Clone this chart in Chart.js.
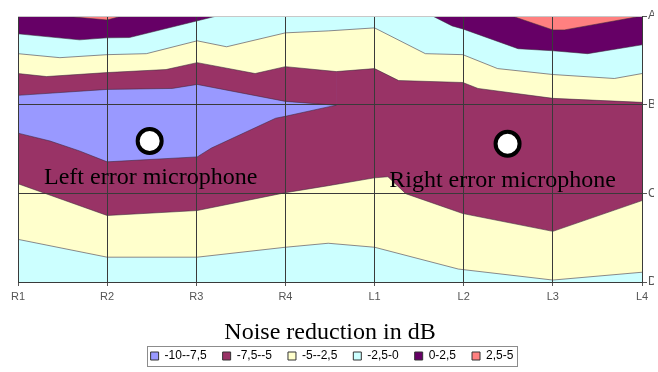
<!DOCTYPE html>
<html>
<head>
<meta charset="utf-8">
<script src="https://cdn.jsdelivr.net/npm/chart.js@4.4.1/dist/chart.umd.min.js"></script>
<style>
  html, body { margin: 0; padding: 0; background: #ffffff; }
  #wrap { width: 658px; height: 372px; }
</style>
</head>
<body>
<div id="wrap"><canvas id="c" width="658" height="372"></canvas></div>
<script>
// ---- categories / tick labels ----
const categories = ['R1', 'R2', 'R3', 'R4', 'L1', 'L2', 'L3', 'L4'];
const rowLabels = ['D', 'C', 'B', 'A'];            // y = 0..3
const bandLabels = ['-10--7,5', '-7,5--5', '-5--2,5', '-2,5-0', '0-2,5', '2,5-5'];
const bandColors = ['#9999FF', '#993366', '#FFFFCC', '#CCFFFF', '#660066', '#FF8080'];

// ---- contour boundaries [x (category index), y (row units D=0..A=3)] ----
const blueLower = [[0,1.679],[0.36,1.590],[0.69,1.478],[1.0,1.355],[2.01,1.411],[2.17,1.511],[2.89,1.847],[3.0,1.869],[3.48,1.975],[3.57,1.993]];
const blueUpper = [[0,2.105],[1.0,2.172],[1.73,2.183],[2.01,2.228],[3.0,2.037],[3.48,2.0],[3.57,1.993]];
const yellowUpper = [[0,2.351],[0.32,2.317],[1.0,2.362],[1.66,2.396],[2.01,2.474],[2.66,2.351],[3.0,2.429],[3.57,2.373],[4.0,2.407],[4.27,2.272],[4.99,2.250],[5.16,2.183],[6.0,2.071],[7,2.026]];
const cyanUpper = [[0,2.575],[0.47,2.530],[1.0,2.564],[1.44,2.575],[2.01,2.720],[2.34,2.653],[3.0,2.810],[3.48,2.832],[4.0,2.866],[4.57,2.575],[4.99,2.564],[5.38,2.407],[6.0,2.340],[6.69,2.295],[7,2.351]];
const purpleLeft = [[0,2.799],[0.69,2.731],[1.0,2.754],[1.25,2.757],[2.23,3.0]];
const purpleRight = [[4.65,3.0],[4.87,2.888],[4.99,2.854],[5.61,2.631],[6.0,2.608],[6.39,2.575],[7,2.675]];
const salmonLeft = [[0.5,3.0],[1.0,2.955],[1.17,3.0]];
const salmonRight = [[5.54,3.0],[6.0,2.843],[6.13,2.843],[7,3.0]];
const yellowLower = [[0,1.108],[1.0,0.750],[2.01,0.806],[3.0,1.007],[3.48,1.086],[4.0,1.175],[4.15,1.187],[4.35,0.996],[4.99,0.772],[6.0,0.571],[7,0.918]];
const cyanLower = [[0,0.481],[1.0,0.280],[2.01,0.280],[3.0,0.392],[3.48,0.437],[4.0,0.392],[4.94,0.146],[6.0,0.022],[7,0.110]];

// ---- microphone markers ----
const micNames = ['Left error microphone', 'Right error microphone'];
const micX = [1.477, 5.492];
const micY = [1.590, 1.559];

const toXY = arr => arr.map(p => ({x: p[0], y: p[1]}));
const EDGE = 'rgba(60,40,60,0.55)';
const GRID = '#3a3a3a';

// paint order: first listed is painted first
const layers = [
  {data: blueLower,   fill: 'end',   color: bandColors[0]},
  {data: blueUpper,   fill: 'end',   color: bandColors[1]},
  {data: yellowUpper, fill: 'end',   color: bandColors[2]},
  {data: cyanUpper,   fill: 'end',   color: bandColors[3]},
  {data: purpleLeft,  fill: 'end',   color: bandColors[4]},
  {data: purpleRight, fill: 'end',   color: bandColors[4]},
  {data: salmonLeft,  fill: 'end',   color: bandColors[5]},
  {data: salmonRight, fill: 'end',   color: bandColors[5]},
  {data: yellowLower, fill: 'start', color: bandColors[2]},
  {data: cyanLower,   fill: 'start', color: bandColors[3]}
];

const datasets = layers.map((l, i) => ({
  type: 'line',
  data: toXY(l.data),
  fill: l.fill,
  backgroundColor: l.color,
  borderColor: EDGE,
  borderWidth: 1,
  pointRadius: 0,
  tension: 0,
  order: 100 - i
}));

datasets.push({
  type: 'scatter',
  data: micX.map((x, i) => ({x: x, y: micY[i]})),
  pointRadius: 12,
  pointBorderWidth: 4,
  pointBackgroundColor: '#ffffff',
  pointBorderColor: '#000000',
  order: 0
});

const bgPlugin = {
  id: 'bg',
  afterLayout(chart) {
    // nudge the legend block a little to the left, as in the original
    if (chart.legend) { chart.legend.right -= 12; }
  },
  beforeDatasetsDraw(chart) {
    const {ctx, chartArea: a} = chart;
    ctx.save();
    ctx.fillStyle = bandColors[1];
    ctx.fillRect(a.left, a.top, a.right - a.left, a.bottom - a.top);
    ctx.restore();
  }
};

const labelPlugin = {
  id: 'micLabels',
  afterDraw(chart) {
    const {ctx, scales: {x, y}} = chart;
    const dx = [1, -5];
    ctx.save();
    ctx.font = '24px "Liberation Serif", "Times New Roman", serif';
    ctx.fillStyle = '#000';
    ctx.textAlign = 'center';
    ctx.textBaseline = 'alphabetic';
    micNames.forEach((n, i) => {
      ctx.fillText(n, x.getPixelForValue(micX[i]) + dx[i], y.getPixelForValue(micY[i]) + 43);
    });
    // legend frame
    const hb = chart.legend.legendHitBoxes;
    if (hb && hb.length) {
      let l = Infinity, r = -Infinity, t = Infinity, b = -Infinity;
      hb.forEach(h => { l = Math.min(l, h.left); r = Math.max(r, h.left + h.width); t = Math.min(t, h.top); b = Math.max(b, h.top + h.height); });
      ctx.strokeStyle = '#8c8c8c';
      ctx.lineWidth = 1;
      ctx.strokeRect(Math.round(l - 4) + 0.5, Math.round(t - 4) + 0.5, Math.round(r - l + 7), Math.round(b - t + 8));
    }
    ctx.restore();
  }
};

new Chart(document.getElementById('c'), {
  data: {datasets},
  options: {
    responsive: false,
    animation: false,
    events: [],
    layout: {padding: {left: 18, top: 14, right: 0, bottom: 0}},
    plugins: {
      tooltip: {enabled: false},
      legend: {
        position: 'bottom',
        onClick: null,
        labels: {
          boxWidth: 8,
          boxHeight: 8,
          padding: 16,
          color: '#000',
          font: {family: '"Liberation Sans", Arial, sans-serif', size: 12},
          generateLabels: () => bandLabels.map((t, i) => ({
            text: t, fillStyle: bandColors[i], strokeStyle: '#333', lineWidth: 1, hidden: false, datasetIndex: i
          }))
        }
      }
    },
    scales: {
      x: {
        type: 'linear',
        position: 'bottom',
        min: 0, max: 7,
        ticks: {
          z: 1,
          stepSize: 1,
          autoSkip: false,
          maxRotation: 0,
          padding: 4,
          color: '#555',
          font: {family: '"Liberation Sans", Arial, sans-serif', size: 11},
          callback: v => categories[v]
        },
        grid: {z: 1, color: GRID, lineWidth: 1, tickLength: 4, tickColor: '#555'},
        border: {z: 1, display: true, color: '#555', width: 1},
        title: {
          display: true,
          text: 'Noise reduction in dB',
          color: '#000',
          font: {family: '"Liberation Serif", "Times New Roman", serif', size: 24, lineHeight: 0.1},
          padding: {top: 0, bottom: 0}
        },
        afterFit: s => { s.height = 52; }
      },
      y: {
        type: 'linear',
        position: 'right',
        min: 0, max: 3,
        ticks: {
          z: 1,
          stepSize: 1,
          padding: 1,
          color: '#555',
          font: {family: '"Liberation Sans", Arial, sans-serif', size: 12},
          callback: v => rowLabels[v]
        },
        grid: {
          z: 1,
          color: c => (c.tick && c.tick.value === 3) ? '#c8c8c8' : GRID,
          lineWidth: 1,
          tickLength: 5,
          tickColor: '#555'
        },
        border: {z: 1, display: true, color: GRID, width: 1},
        afterFit: s => { s.width = 12; }
      }
    }
  },
  plugins: [bgPlugin, labelPlugin]
});
</script>
</body>
</html>
